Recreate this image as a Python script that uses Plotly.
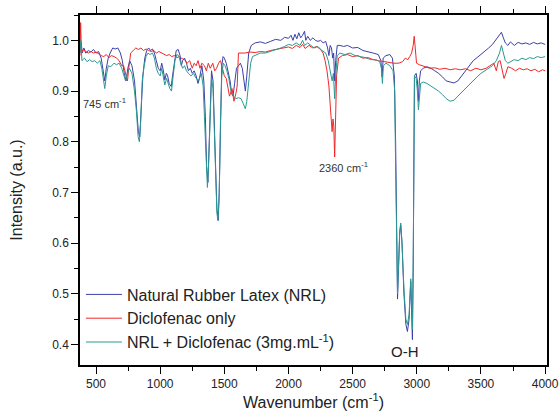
import plotly.graph_objects as go

# ---- Natural Rubber Latex (NRL) ----
nrl_wn = [375, 385, 392, 405, 420, 440, 460, 480, 500, 520, 540, 555, 568, 580, 595, 610, 630, 650, 670, 690,
          705, 720, 734, 748, 762, 780, 800, 815, 830, 841, 852, 865, 880, 895, 910, 925, 940, 955, 970, 985,
          1000, 1012, 1025, 1036, 1048, 1058, 1070, 1086, 1096, 1110, 1125, 1140, 1155, 1165, 1175, 1190, 1205,
          1220, 1235, 1250, 1265, 1280, 1295, 1310, 1325, 1340, 1352, 1362, 1372, 1380, 1390, 1400, 1412, 1422,
          1432, 1442, 1452, 1460, 1470, 1480, 1490, 1500, 1515, 1530, 1545, 1557, 1568, 1580, 1595, 1610, 1625,
          1640, 1652, 1664, 1675, 1690, 1710, 1740, 1780, 1820, 1860, 1900, 1940, 1970, 2000, 2020, 2035, 2050,
          2065, 2080, 2095, 2110, 2125, 2135, 2150, 2170, 2190, 2210, 2230, 2250, 2270, 2290, 2305, 2315, 2325,
          2335, 2345, 2352, 2360, 2368, 2380, 2400, 2430, 2460, 2500, 2540, 2580, 2620, 2660, 2700, 2720, 2730,
          2738, 2760, 2790, 2810, 2825, 2835, 2842, 2850, 2858, 2867, 2875, 2885, 2900, 2915, 2927, 2940, 2953,
          2960, 2966, 2972, 2978, 2982, 2995, 3005, 3013, 3020, 3030, 3050, 3080, 3110, 3140, 3170, 3200, 3230,
          3260, 3290, 3320, 3350, 3380, 3410, 3440, 3470, 3500, 3530, 3560, 3590, 3620, 3645, 3660, 3675, 3690,
          3710, 3730, 3760, 3790, 3820, 3850, 3880, 3910, 3940, 3970, 4000]
nrl_int = [0.985, 0.995, 0.975, 0.985, 0.975, 0.98, 0.977, 0.982, 0.975, 0.978, 0.965, 0.94, 0.92, 0.945, 0.965,
           0.975, 0.985, 0.983, 0.985, 0.975, 0.96, 0.935, 0.92, 0.945, 0.96, 0.95, 0.92, 0.87, 0.82, 0.81, 0.86,
           0.93, 0.965, 0.98, 0.985, 0.98, 0.983, 0.975, 0.96, 0.945, 0.94, 0.955, 0.94, 0.922, 0.935, 0.93, 0.915,
           0.909, 0.93, 0.96, 0.98, 0.982, 0.97, 0.95, 0.96, 0.965, 0.955, 0.94, 0.945, 0.935, 0.94, 0.93, 0.915,
           0.93, 0.95, 0.92, 0.85, 0.75, 0.72, 0.78, 0.88, 0.94, 0.92, 0.85, 0.75, 0.67, 0.645, 0.70, 0.86, 0.95,
           0.968, 0.965, 0.955, 0.94, 0.92, 0.895, 0.89, 0.915, 0.945, 0.95, 0.955, 0.945, 0.925, 0.90, 0.93,
           0.975, 0.99, 0.995, 0.997, 0.994, 0.998, 1.002, 1.0, 1.006, 1.004, 1.01, 1.0, 1.012, 1.003, 1.015,
           1.005, 1.01, 1.018, 1.0, 1.008, 1.0, 1.005, 1.0, 0.998, 1.0, 0.995, 0.998, 0.985, 0.97, 0.99, 0.985,
           0.965, 0.975, 0.92, 0.96, 0.99, 0.99, 0.988, 0.99, 0.985, 0.986, 0.98, 0.978, 0.975, 0.972, 0.96, 0.928,
           0.965, 0.97, 0.972, 0.965, 0.93, 0.80, 0.62, 0.49, 0.55, 0.62, 0.636, 0.60, 0.50, 0.44, 0.426, 0.45,
           0.525, 0.47, 0.41, 0.55, 0.80, 0.93, 0.935, 0.92, 0.88, 0.92, 0.94, 0.945, 0.948, 0.945, 0.94, 0.935,
           0.928, 0.92, 0.918, 0.916, 0.92, 0.93, 0.94, 0.952, 0.96, 0.966, 0.972, 0.978, 0.985, 0.992, 1.002,
           1.01, 1.016, 1.005, 0.995, 0.99, 0.997, 0.99, 0.996, 0.993, 0.995, 0.992, 0.996, 0.993, 0.995, 0.992]

# ---- Diclofenac only ----
dic_wn = [375, 380, 386, 400, 420, 440, 460, 480, 500, 520, 540, 560, 580, 600, 620, 640, 660, 680, 700, 715,
          730, 745, 755, 770, 790, 810, 830, 850, 870, 890, 910, 930, 950, 970, 990, 1010, 1030, 1050, 1070,
          1090, 1110, 1130, 1150, 1170, 1190, 1210, 1230, 1250, 1265, 1280, 1295, 1310, 1325, 1345, 1360, 1375,
          1390, 1410, 1425, 1440, 1455, 1470, 1485, 1500, 1515, 1530, 1540, 1560, 1575, 1590, 1600, 1610, 1630,
          1660, 1700, 1740, 1780, 1820, 1860, 1900, 1940, 1970, 2000, 2030, 2060, 2090, 2110, 2130, 2160, 2190,
          2220, 2250, 2270, 2285, 2300, 2315, 2328, 2340, 2347, 2353, 2360, 2366, 2375, 2390, 2420, 2460, 2500,
          2540, 2580, 2620, 2660, 2700, 2740, 2780, 2820, 2860, 2890, 2910, 2930, 2945, 2960, 2972, 2980, 2988,
          2998, 3020, 3060, 3100, 3140, 3180, 3220, 3260, 3300, 3340, 3380, 3420, 3460, 3500, 3540, 3570, 3600,
          3620, 3635, 3650, 3665, 3680, 3695, 3710, 3740, 3770, 3800, 3830, 3860, 3890, 3920, 3950, 3980, 4000]
dic_int = [0.97, 1.035, 0.975, 0.982, 0.978, 0.975, 0.978, 0.975, 0.977, 0.973, 0.97, 0.968, 0.972, 0.966, 0.97,
           0.968, 0.965, 0.96, 0.95, 0.95, 0.935, 0.92, 0.945, 0.975, 0.98, 0.985, 0.982, 0.985, 0.98, 0.983, 0.98,
           0.978, 0.98, 0.975, 0.978, 0.975, 0.973, 0.97, 0.972, 0.968, 0.97, 0.966, 0.968, 0.964, 0.962, 0.955,
           0.96, 0.945, 0.955, 0.95, 0.96, 0.945, 0.955, 0.95, 0.94, 0.955, 0.945, 0.955, 0.94, 0.945, 0.955,
           0.96, 0.945, 0.93, 0.925, 0.905, 0.89, 0.905, 0.88, 0.895, 0.91, 0.975, 0.975, 0.975, 0.977, 0.976,
           0.978, 0.977, 0.98, 0.982, 0.984, 0.985, 0.987, 0.984, 0.99, 0.986, 0.992, 0.984, 0.99, 0.985, 0.988,
           0.982, 0.975, 0.96, 0.94, 0.91, 0.86, 0.82, 0.845, 0.83, 0.77, 0.85, 0.93, 0.965, 0.97, 0.972, 0.968,
           0.97, 0.965, 0.966, 0.962, 0.96, 0.958, 0.956, 0.955, 0.955, 0.958, 0.965, 0.962, 0.968, 0.975, 0.99,
           1.008, 0.985, 0.955, 0.952, 0.948, 0.945, 0.946, 0.943, 0.945, 0.942, 0.944, 0.942, 0.944, 0.94, 0.945,
           0.942, 0.945, 0.95, 0.955, 0.94, 0.958, 0.96, 0.94, 0.925, 0.935, 0.948, 0.945, 0.94, 0.945, 0.942,
           0.944, 0.94, 0.943, 0.938, 0.942, 0.94]

# ---- NRL + Diclofenac (3 mg/mL) ----
mix_wn = [375, 382, 390, 410, 430, 450, 470, 490, 510, 530, 545, 558, 568, 580, 595, 615, 640, 660, 680, 700,
          715, 730, 745, 760, 780, 800, 815, 828, 838, 848, 860, 875, 890, 905, 920, 940, 955, 970, 985, 1000,
          1012, 1025, 1036, 1050, 1062, 1075, 1088, 1100, 1115, 1130, 1145, 1160, 1175, 1190, 1205, 1220, 1240,
          1260, 1280, 1300, 1320, 1335, 1348, 1358, 1368, 1378, 1390, 1400, 1412, 1422, 1432, 1442, 1450, 1460,
          1470, 1480, 1492, 1505, 1520, 1535, 1548, 1560, 1572, 1590, 1610, 1630, 1648, 1664, 1675, 1690, 1705,
          1720, 1750, 1780, 1820, 1860, 1900, 1940, 1970, 2000, 2030, 2060, 2090, 2110, 2125, 2150, 2175, 2200,
          2230, 2260, 2290, 2310, 2325, 2340, 2350, 2360, 2368, 2380, 2400, 2440, 2480, 2520, 2560, 2600, 2640,
          2680, 2710, 2725, 2732, 2740, 2760, 2790, 2815, 2828, 2835, 2842, 2850, 2858, 2867, 2875, 2885, 2900,
          2915, 2927, 2940, 2953, 2960, 2966, 2972, 2978, 2982, 2995, 3005, 3013, 3020, 3030, 3050, 3080, 3110,
          3140, 3170, 3200, 3230, 3260, 3290, 3320, 3350, 3380, 3410, 3440, 3470, 3500, 3530, 3560, 3590, 3620,
          3645, 3660, 3675, 3690, 3710, 3730, 3760, 3790, 3820, 3850, 3880, 3910, 3940, 3970, 4000]
mix_int = [0.975, 1.0, 0.96, 0.965, 0.958, 0.962, 0.958, 0.96, 0.955, 0.96, 0.945, 0.92, 0.905, 0.93, 0.95,
           0.948, 0.955, 0.952, 0.955, 0.945, 0.93, 0.92, 0.935, 0.945, 0.935, 0.90, 0.86, 0.81, 0.80, 0.84, 0.92,
           0.95, 0.968, 0.975, 0.972, 0.975, 0.965, 0.945, 0.935, 0.93, 0.945, 0.93, 0.912, 0.925, 0.915, 0.905,
           0.90, 0.93, 0.96, 0.972, 0.97, 0.955, 0.945, 0.95, 0.94, 0.935, 0.93, 0.935, 0.925, 0.92, 0.935, 0.91,
           0.84, 0.76, 0.71, 0.76, 0.87, 0.925, 0.905, 0.83, 0.73, 0.66, 0.645, 0.69, 0.84, 0.93, 0.955, 0.95,
           0.94, 0.925, 0.905, 0.893, 0.89, 0.885, 0.887, 0.885, 0.875, 0.865, 0.88, 0.92, 0.955, 0.968, 0.972,
           0.975, 0.975, 0.978, 0.982, 0.985, 0.988, 0.992, 0.99, 0.995, 0.99, 1.0, 0.99, 0.995, 0.99, 0.985,
           0.988, 0.98, 0.975, 0.96, 0.94, 0.92, 0.935, 0.885, 0.93, 0.97, 0.975, 0.972, 0.975, 0.97, 0.968, 0.966,
           0.962, 0.962, 0.958, 0.945, 0.915, 0.95, 0.955, 0.95, 0.94, 0.90, 0.75, 0.58, 0.50, 0.56, 0.625, 0.64,
           0.60, 0.51, 0.45, 0.44, 0.46, 0.53, 0.48, 0.43, 0.56, 0.80, 0.93, 0.925, 0.90, 0.863, 0.89, 0.915,
           0.918, 0.915, 0.91, 0.905, 0.90, 0.893, 0.885, 0.88, 0.882, 0.89, 0.898, 0.905, 0.912, 0.92, 0.928,
           0.935, 0.94, 0.945, 0.95, 0.96, 0.975, 0.99, 0.975, 0.96, 0.955, 0.958, 0.962, 0.96, 0.965, 0.962,
           0.966, 0.964, 0.968, 0.966, 0.968]

series_names = ["Natural Rubber Latex (NRL)", "Diclofenac only", "NRL + Diclofenac (3mg.mL<sup>-1</sup>)"]
series_colors = ["#3b3fa8", "#f02828", "#2a9990"]

x_ticks = [500, 1000, 1500, 2000, 2500, 3000, 3500, 4000]
y_ticks = [0.4, 0.5, 0.6, 0.7, 0.8, 0.9, 1.0]
y_tick_text = ["0.4", "0.5", "0.6", "0.7", "0.8", "0.9", "1.0"]

FONT = "Liberation Sans, Arial, sans-serif"

fig = go.Figure()
for wn, inten, name, col in zip([nrl_wn, dic_wn, mix_wn], [nrl_int, dic_int, mix_int], series_names, series_colors):
    fig.add_trace(go.Scatter(x=wn, y=inten, mode="lines", name=name,
                             line=dict(color=col, width=1)))

fig.update_layout(
    width=560, height=419,
    margin=dict(l=80, r=13, t=15, b=54),
    paper_bgcolor="white", plot_bgcolor="white",
    font=dict(family=FONT, color="#222222", size=12),
    showlegend=True,
    legend=dict(x=0.002, y=0.25, xanchor="left", yanchor="top",
                bgcolor="rgba(0,0,0,0)", font=dict(size=16, family=FONT, color="#222222"),
                tracegroupgap=0, itemwidth=36),
)

fig.update_xaxes(
    range=[375, 4015], tickvals=x_ticks, showgrid=False, zeroline=False, automargin=False,
    showline=True, linecolor="black", linewidth=1.5, mirror="ticks",
    ticks="outside", ticklen=7, tickwidth=1, tickcolor="black",
    minor=dict(ticks="outside", ticklen=4, dtick=250, tick0=0, tickcolor="black", showgrid=False),
    tickfont=dict(size=12, family=FONT, color="#222222"),
    title=dict(text="Wavenumber (cm<sup>-1</sup>)", font=dict(size=16, family=FONT, color="#222222"), standoff=6),
)
fig.update_yaxes(
    range=[0.36, 1.05], tickvals=y_ticks, ticktext=y_tick_text, showgrid=False, zeroline=False, automargin=False,
    showline=True, linecolor="black", linewidth=1.5, mirror=True,
    ticks="outside", ticklen=7, tickwidth=1, tickcolor="black",
    minor=dict(ticks="outside", ticklen=4, dtick=0.05, tick0=0, tickcolor="black", showgrid=False),
    tickfont=dict(size=12, family=FONT, color="#222222"),
    title=dict(text="Intensity (a.u.)", font=dict(size=16, family=FONT, color="#222222"), standoff=26),
)

fig.add_annotation(x=383, y=0.877, text="745 cm<sup>-1</sup>", showarrow=False,
                   xanchor="left", yanchor="middle", font=dict(size=11, family=FONT, color="#333333"))
fig.add_annotation(x=2219, y=0.75, text="2360 cm<sup>-1</sup>", showarrow=False,
                   xanchor="left", yanchor="middle", font=dict(size=11, family=FONT, color="#333333"))
fig.add_annotation(x=2906, y=0.386, text="O-H", showarrow=False,
                   xanchor="center", yanchor="middle", font=dict(size=15, family=FONT, color="#222222"))

fig.write_html("out.html", config={"displayModeBar": False},
               post_script="document.body.style.margin='0px';document.body.style.padding='0px';")
